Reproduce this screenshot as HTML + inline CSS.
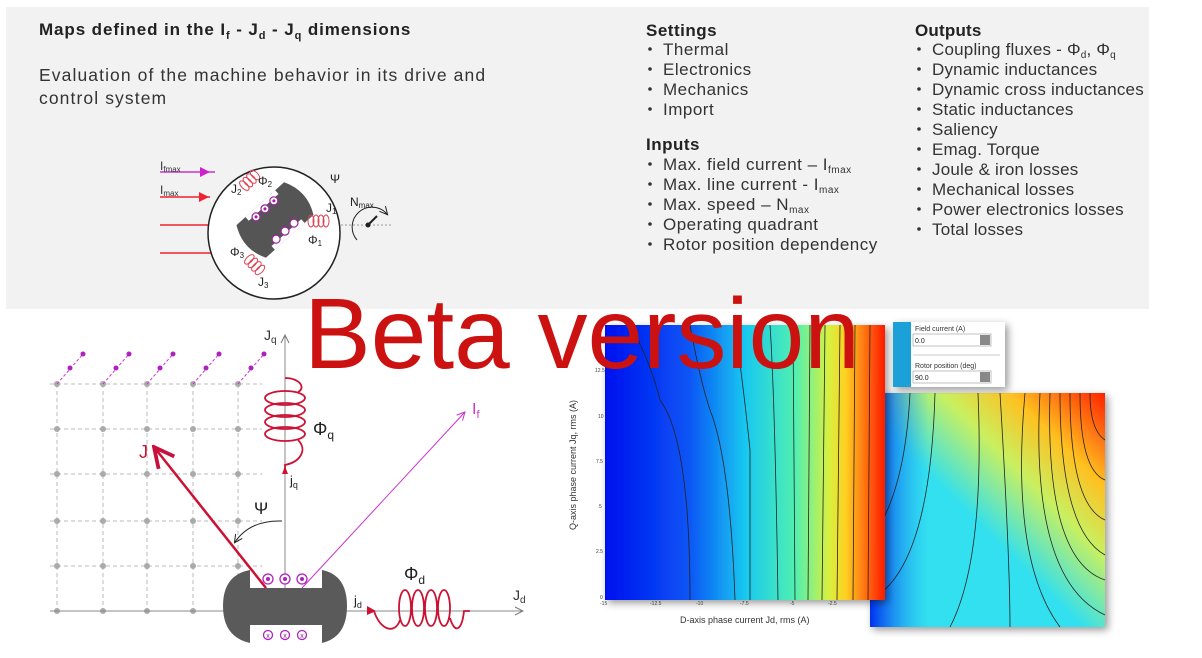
<!DOCTYPE html>
<html><head><meta charset="utf-8"><style>
html,body{margin:0;padding:0;background:#fff;}
svg{display:block;font-family:"Liberation Sans",sans-serif;}
</style></head><body>
<svg width="1202" height="658" viewBox="0 0 1202 658" xmlns="http://www.w3.org/2000/svg">
<defs>
<linearGradient id="g1" x1="0" x2="1" y1="0" y2="0">
<stop offset="0" stop-color="#0010f0"/><stop offset="0.3" stop-color="#0a55f5"/><stop offset="0.5" stop-color="#18c8f0"/><stop offset="0.68" stop-color="#50f0b0"/><stop offset="0.8" stop-color="#d8f040"/><stop offset="0.86" stop-color="#ffd020"/><stop offset="0.93" stop-color="#ff7010"/><stop offset="1" stop-color="#ff1a00"/>
</linearGradient>
<linearGradient id="g2" x1="0" x2="1" y1="1" y2="0">
<stop offset="0" stop-color="#30e0f0"/><stop offset="0.45" stop-color="#30e0f0"/><stop offset="0.65" stop-color="#c8f060"/><stop offset="0.8" stop-color="#ffc020"/><stop offset="1" stop-color="#ff2000"/>
</linearGradient>
<linearGradient id="g2b" x1="0" x2="1" y1="0" y2="0">
<stop offset="0" stop-color="#0030f0" stop-opacity="1"/><stop offset="0.25" stop-color="#20a0f0" stop-opacity="0"/>
</linearGradient>
<marker id="ag" markerWidth="10" markerHeight="10" refX="9" refY="5" orient="auto"><path d="M1,1 L9,5 L1,9" fill="none" stroke="#777" stroke-width="1"/></marker>
<marker id="ar" markerWidth="10" markerHeight="10" refX="9" refY="5" orient="auto"><path d="M1,1 L9,5 L1,9" fill="none" stroke="#c8103c" stroke-width="1.5"/></marker>
<marker id="am" markerWidth="10" markerHeight="10" refX="9" refY="5" orient="auto"><path d="M1,1 L9,5 L1,9" fill="none" stroke="#cc33cc" stroke-width="1"/></marker>
<marker id="ak" markerWidth="10" markerHeight="10" refX="8" refY="5" orient="auto"><path d="M1,1 L9,5 L1,9" fill="none" stroke="#222" stroke-width="1"/></marker>
<filter id="sh"><feDropShadow dx="3" dy="3" stdDeviation="4" flood-opacity="0.4"/></filter>
</defs>
<rect x="6" y="7" width="1143" height="302" fill="#f2f2f2"/>
<g fill="#222">
<text x="39" y="35" font-size="17" font-weight="bold" letter-spacing="0.9">Maps defined in the  I<tspan font-size="11" dy="4">f</tspan><tspan dy="-4"> - J</tspan><tspan font-size="11" dy="4">d</tspan><tspan dy="-4"> - J</tspan><tspan font-size="11" dy="4">q</tspan><tspan dy="-4"> dimensions</tspan></text>
<text x="39" y="81" font-size="17.5" fill="#333" letter-spacing="1.1">Evaluation of the machine behavior in its drive and</text>
<text x="39" y="104" font-size="17.5" fill="#333" letter-spacing="1.1">control system</text>
</g>
<g font-size="17" fill="#333" letter-spacing="0.5">
<text x="646" y="36" font-weight="bold" fill="#222">Settings</text>
<text x="663" y="55">Thermal</text>
<text x="663" y="75">Electronics</text>
<text x="663" y="95">Mechanics</text>
<text x="663" y="115">Import</text>
<text x="646" y="150" font-weight="bold" fill="#222">Inputs</text>
<text x="663" y="170">Max. field current – I<tspan font-size="10" dy="3">fmax</tspan></text>
<text x="663" y="190">Max. line current - I<tspan font-size="10" dy="3">max</tspan></text>
<text x="663" y="210">Max. speed – N<tspan font-size="10" dy="3">max</tspan></text>
<text x="663" y="230">Operating quadrant</text>
<text x="663" y="250">Rotor position dependency</text>
</g>
<g font-size="17" fill="#333" letter-spacing="0.2">
<text x="915" y="36" font-weight="bold" fill="#222">Outputs</text>
<text x="932" y="55">Coupling fluxes - Φ<tspan font-size="10" dy="3">d</tspan><tspan dy="-3">, Φ</tspan><tspan font-size="10" dy="3">q</tspan></text>
<text x="932" y="75">Dynamic inductances</text>
<text x="932" y="95">Dynamic cross inductances</text>
<text x="932" y="115">Static inductances</text>
<text x="932" y="135">Saliency</text>
<text x="932" y="155">Emag. Torque</text>
<text x="932" y="175">Joule &amp; iron losses</text>
<text x="932" y="195">Mechanical losses</text>
<text x="932" y="215">Power electronics losses</text>
<text x="932" y="235">Total losses</text>
</g>
<g fill="#333">
<circle cx="650" cy="49" r="1.8"/><circle cx="650" cy="69" r="1.8"/><circle cx="650" cy="89" r="1.8"/><circle cx="650" cy="109" r="1.8"/>
<circle cx="650" cy="164" r="1.8"/><circle cx="650" cy="184" r="1.8"/><circle cx="650" cy="204" r="1.8"/><circle cx="650" cy="224" r="1.8"/><circle cx="650" cy="244" r="1.8"/>
<circle cx="919" cy="49" r="1.8"/><circle cx="919" cy="69" r="1.8"/><circle cx="919" cy="89" r="1.8"/><circle cx="919" cy="109" r="1.8"/><circle cx="919" cy="129" r="1.8"/><circle cx="919" cy="149" r="1.8"/><circle cx="919" cy="169" r="1.8"/><circle cx="919" cy="189" r="1.8"/><circle cx="919" cy="209" r="1.8"/><circle cx="919" cy="229" r="1.8"/>
</g>
<!-- motor -->
<g>
<line x1="160" y1="172" x2="215" y2="172" stroke="#cc33cc" stroke-width="1.5"/>
<path d="M200,167 L210,172 L200,177Z" fill="#cc22cc"/>
<line x1="160" y1="197" x2="210" y2="197" stroke="#ee2233" stroke-width="1.5"/>
<path d="M199,192 L209,197 L199,202Z" fill="#ee2233"/>
<line x1="160" y1="225" x2="209" y2="225" stroke="#ee2233" stroke-width="1.5"/>
<line x1="160" y1="253" x2="213" y2="253" stroke="#ee2233" stroke-width="1.5"/>
<text x="160" y="170" font-size="12" fill="#333">I<tspan font-size="8" dy="2">fmax</tspan></text>
<text x="160" y="194" font-size="12" fill="#333">I<tspan font-size="8" dy="2">max</tspan></text>
<circle cx="274" cy="233" r="66" fill="#fff" stroke="#222" stroke-width="1.5"/>
<g transform="translate(275,220) rotate(-42)">
<path d="M-32,-22 L32,-22 Q44,0 32,22 L-32,22 Q-44,0 -32,-22Z" fill="#555"/>
<rect x="-20" y="-22" width="40" height="5" fill="#fff"/>
<rect x="-20" y="17" width="40" height="5" fill="#fff"/>
<g fill="#fff" stroke="#a020a0" stroke-width="1.2"><circle cx="-12" cy="-15" r="4"/><circle cx="0" cy="-15" r="4"/><circle cx="12" cy="-15" r="4"/><circle cx="-12" cy="15" r="4"/><circle cx="0" cy="15" r="4"/><circle cx="12" cy="15" r="4"/></g>
<g fill="#a020a0"><circle cx="-12" cy="-15" r="1.5"/><circle cx="0" cy="-15" r="1.5"/><circle cx="12" cy="-15" r="1.5"/></g>
</g>
<g fill="none" stroke="#dd4455" stroke-width="1">
<ellipse cx="311" cy="221" rx="3" ry="6"/><ellipse cx="316" cy="221" rx="3" ry="6"/><ellipse cx="321" cy="221" rx="3" ry="6"/><ellipse cx="326" cy="221" rx="3" ry="6"/>
<g transform="rotate(-45 250 180)"><ellipse cx="242" cy="180" rx="3" ry="6"/><ellipse cx="247" cy="180" rx="3" ry="6"/><ellipse cx="252" cy="180" rx="3" ry="6"/><ellipse cx="257" cy="180" rx="3" ry="6"/></g>
<g transform="rotate(45 255 265)"><ellipse cx="247" cy="265" rx="3" ry="6"/><ellipse cx="252" cy="265" rx="3" ry="6"/><ellipse cx="257" cy="265" rx="3" ry="6"/><ellipse cx="262" cy="265" rx="3" ry="6"/></g>
</g>
<g font-size="12" fill="#222">
<text x="258" y="185">Φ<tspan font-size="8" dy="2">2</tspan></text>
<text x="231" y="193">J<tspan font-size="8" dy="2">2</tspan></text>
<text x="326" y="212">J<tspan font-size="8" dy="2">1</tspan></text>
<text x="308" y="244">Φ<tspan font-size="8" dy="2">1</tspan></text>
<text x="230" y="256">Φ<tspan font-size="8" dy="2">3</tspan></text>
<text x="258" y="286">J<tspan font-size="8" dy="2">3</tspan></text>
<text x="330" y="183">Ψ</text>
<text x="350" y="206">N<tspan font-size="8" dy="2">max</tspan></text>
</g>
<line x1="341" y1="225" x2="392" y2="225" stroke="#999" stroke-width="1" stroke-dasharray="2,2"/>
<path d="M357,240 A18,18 0 0 1 387,214" fill="none" stroke="#222" marker-end="url(#ak)"/>
<line x1="368" y1="225" x2="377" y2="216" stroke="#222" stroke-width="2"/>
<circle cx="368" cy="225" r="2.5" fill="#222"/>
</g>
<!-- bottom-left grid -->
<g stroke="#bbb" stroke-width="1" stroke-dasharray="4,3">
<line x1="50" y1="384" x2="262" y2="384"/><line x1="50" y1="429" x2="262" y2="429"/><line x1="50" y1="474" x2="262" y2="474"/><line x1="50" y1="521" x2="262" y2="521"/><line x1="50" y1="566" x2="262" y2="566"/>
<line x1="57" y1="384" x2="57" y2="611"/><line x1="103" y1="384" x2="103" y2="611"/><line x1="147" y1="384" x2="147" y2="611"/><line x1="193" y1="384" x2="193" y2="611"/><line x1="238" y1="384" x2="238" y2="611"/>
</g>
<g fill="#aaa">
<circle cx="57" cy="384" r="3"/><circle cx="103" cy="384" r="3"/><circle cx="147" cy="384" r="3"/><circle cx="193" cy="384" r="3"/><circle cx="238" cy="384" r="3"/>
<circle cx="57" cy="429" r="3"/><circle cx="103" cy="429" r="3"/><circle cx="147" cy="429" r="3"/><circle cx="193" cy="429" r="3"/><circle cx="238" cy="429" r="3"/>
<circle cx="57" cy="474" r="3"/><circle cx="103" cy="474" r="3"/><circle cx="147" cy="474" r="3"/><circle cx="193" cy="474" r="3"/><circle cx="238" cy="474" r="3"/>
<circle cx="57" cy="521" r="3"/><circle cx="103" cy="521" r="3"/><circle cx="147" cy="521" r="3"/><circle cx="193" cy="521" r="3"/><circle cx="238" cy="521" r="3"/>
<circle cx="57" cy="566" r="3"/><circle cx="103" cy="566" r="3"/><circle cx="147" cy="566" r="3"/><circle cx="193" cy="566" r="3"/><circle cx="238" cy="566" r="3"/>
<circle cx="57" cy="611" r="3"/><circle cx="103" cy="611" r="3"/><circle cx="147" cy="611" r="3"/><circle cx="193" cy="611" r="3"/>
</g>
<g stroke="#cc33cc" stroke-width="1" stroke-dasharray="3,2">
<line x1="57" y1="384" x2="83" y2="354"/><line x1="103" y1="384" x2="129" y2="354"/><line x1="147" y1="384" x2="173" y2="354"/><line x1="193" y1="384" x2="219" y2="354"/><line x1="238" y1="384" x2="264" y2="354"/>
</g>
<g fill="#b020c0">
<circle cx="70" cy="368" r="2.5"/><circle cx="83" cy="354" r="2.5"/><circle cx="116" cy="368" r="2.5"/><circle cx="129" cy="354" r="2.5"/><circle cx="160" cy="368" r="2.5"/><circle cx="173" cy="354" r="2.5"/><circle cx="206" cy="368" r="2.5"/><circle cx="219" cy="354" r="2.5"/><circle cx="251" cy="368" r="2.5"/><circle cx="264" cy="354" r="2.5"/>
</g>
<line x1="50" y1="611" x2="523" y2="611" stroke="#888" stroke-width="1" marker-end="url(#ag)"/>
<line x1="285" y1="611" x2="285" y2="335" stroke="#888" stroke-width="1" marker-end="url(#ag)"/>
<text x="264" y="340" font-size="14" fill="#333">J<tspan font-size="10" dy="3">q</tspan></text>
<text x="513" y="600" font-size="14" fill="#333">J<tspan font-size="10" dy="3">d</tspan></text>
<!-- q coil -->
<g fill="none" stroke="#cc1133" stroke-width="1.8">
<path d="M285,378 C300,378 306,388 298,392"/>
<ellipse cx="285" cy="398" rx="20" ry="7"/><ellipse cx="285" cy="410" rx="20" ry="7"/><ellipse cx="285" cy="422" rx="20" ry="7"/><ellipse cx="285" cy="434" rx="20" ry="7"/>
<path d="M298,440 C308,450 300,462 285,465 L285,470"/>
</g>
<path d="M282,474 L285,466 L288,474Z" fill="#cc1133"/>
<text x="313" y="435" font-size="18" fill="#222">Φ<tspan font-size="12" dy="4">q</tspan></text>
<text x="290" y="485" font-size="13" fill="#222">j<tspan font-size="9" dy="3">q</tspan></text>
<!-- d coil -->
<g fill="none" stroke="#cc1133" stroke-width="1.8">
<path d="M374,611 C380,630 395,635 400,620"/>
<ellipse cx="405" cy="608" rx="6" ry="18"/><ellipse cx="418" cy="608" rx="6" ry="18"/><ellipse cx="431" cy="608" rx="6" ry="18"/><ellipse cx="444" cy="608" rx="6" ry="18"/>
<path d="M450,618 C455,635 462,630 464,611 L470,611"/>
</g>
<path d="M367,606 L376,611 L367,615Z" fill="#cc1133"/>
<text x="404" y="580" font-size="18" fill="#222">Φ<tspan font-size="12" dy="4">d</tspan></text>
<text x="354" y="605" font-size="13" fill="#222">j<tspan font-size="9" dy="3">d</tspan></text>
<!-- vectors -->
<line x1="266" y1="588" x2="154" y2="447" stroke="#cc1133" stroke-width="2.5" marker-end="url(#ar)"/>
<text x="139" y="458" font-size="18" fill="#cc1133">J</text>
<line x1="302" y1="588" x2="465" y2="412" stroke="#cc33cc" stroke-width="1" marker-end="url(#am)"/>
<text x="472" y="414" font-size="16" fill="#cc33cc">I<tspan font-size="11" dy="4">f</tspan></text>
<path d="M282,521 Q250,520 235,542" fill="none" stroke="#222" stroke-width="1" marker-end="url(#ak)"/>
<text x="254" y="514" font-size="17" fill="#222">Ψ</text>
<!-- rotor -->
<path d="M250,570 L250,588 L322,588 L322,570 Q347,575 347,606 Q347,637 322,643 L322,625 L250,625 L250,643 Q223,637 223,606 Q223,575 250,570Z" fill="#5a5a5a"/>
<g fill="#fff" stroke="#b020c0" stroke-width="1.3">
<circle cx="268" cy="579" r="5"/><circle cx="285" cy="579" r="5"/><circle cx="302" cy="579" r="5"/>
<circle cx="268" cy="635" r="4.5"/><circle cx="285" cy="635" r="4.5"/><circle cx="302" cy="635" r="4.5"/>
</g>
<g fill="#b020c0"><circle cx="268" cy="579" r="2"/><circle cx="285" cy="579" r="2"/><circle cx="302" cy="579" r="2"/></g>
<g font-size="7" fill="#902090" text-anchor="middle"><text x="268" y="638">x</text><text x="285" y="638">x</text><text x="302" y="638">x</text></g>
<!-- plots -->
<rect x="870" y="393" width="235" height="234" fill="url(#g2)" filter="url(#sh)"/>
<rect x="870" y="393" width="235" height="234" fill="url(#g2b)"/>
<g fill="none" stroke="#222" stroke-width="0.8">
<path d="M870,540 Q905,495 910,393"/><path d="M870,600 Q930,570 935,393"/>
<path d="M950,627 Q985,560 978,393"/><path d="M1010,627 Q1010,560 1000,393"/>
<path d="M1060,627 Q1010,560 1025,393"/><path d="M1105,615 Q1030,580 1040,393"/>
<path d="M1105,580 Q1045,560 1050,393"/><path d="M1105,555 Q1060,530 1060,393"/>
<path d="M1105,520 Q1070,505 1070,393"/><path d="M1105,480 Q1080,470 1080,393"/><path d="M1105,440 Q1090,430 1090,393"/>
</g>
<rect x="605" y="325" width="280" height="275" fill="url(#g1)" filter="url(#sh)"/>
<g fill="none" stroke="#222" stroke-width="0.8">
<path d="M630,325 Q650,360 660,400 Q690,440 690,600"/>
<path d="M690,325 Q700,380 710,410 Q730,460 735,600"/>
<path d="M735,325 Q745,400 750,450 L750,600"/>
<path d="M770,325 Q775,400 778,600"/><path d="M793,325 L795,600"/>
<path d="M810,325 L808,600"/><path d="M825,325 L822,600"/><path d="M840,325 L837,600"/><path d="M855,325 L853,600"/><path d="M870,325 L868,600"/>
</g>
<g font-size="9" fill="#333">
<text x="576" y="530" transform="rotate(-90 576 530)">Q-axis phase current Jq, rms (A)</text>
<text x="680" y="623">D-axis phase current Jd, rms (A)</text>
</g>
<g font-size="5" fill="#444"><text x="600" y="605">-15</text><text x="650" y="605">-12.5</text><text x="696" y="605">-10</text><text x="740" y="605">-7.5</text><text x="790" y="605">-5</text><text x="828" y="605">-2.5</text><text x="880" y="605">0</text>
<text x="595" y="372">12.5</text><text x="598" y="418">10</text><text x="596" y="463">7.5</text><text x="599" y="508">5</text><text x="596" y="553">2.5</text><text x="600" y="599">0</text></g>
<rect x="893" y="322" width="112" height="65" fill="#fff" filter="url(#sh)"/>
<rect x="893" y="322" width="18" height="65" fill="#1ca0d8"/>
<g font-size="7" fill="#333"><text x="915" y="331">Field current (A)</text><text x="915" y="368">Rotor position (deg)</text></g>
<rect x="913" y="334" width="78" height="12" fill="#fff" stroke="#999" stroke-width="0.6"/><rect x="980" y="335" width="10" height="10" fill="#888"/>
<rect x="913" y="371" width="78" height="12" fill="#fff" stroke="#999" stroke-width="0.6"/><rect x="980" y="372" width="10" height="10" fill="#888"/>
<g font-size="7" fill="#222"><text x="915" y="343">0.0</text><text x="915" y="380">90.0</text></g>
<line x1="913" y1="355" x2="1000" y2="355" stroke="#ccc"/>
<text x="304" y="368" font-size="100" fill="#cc1111">Beta version</text>
</svg>
</body></html>
